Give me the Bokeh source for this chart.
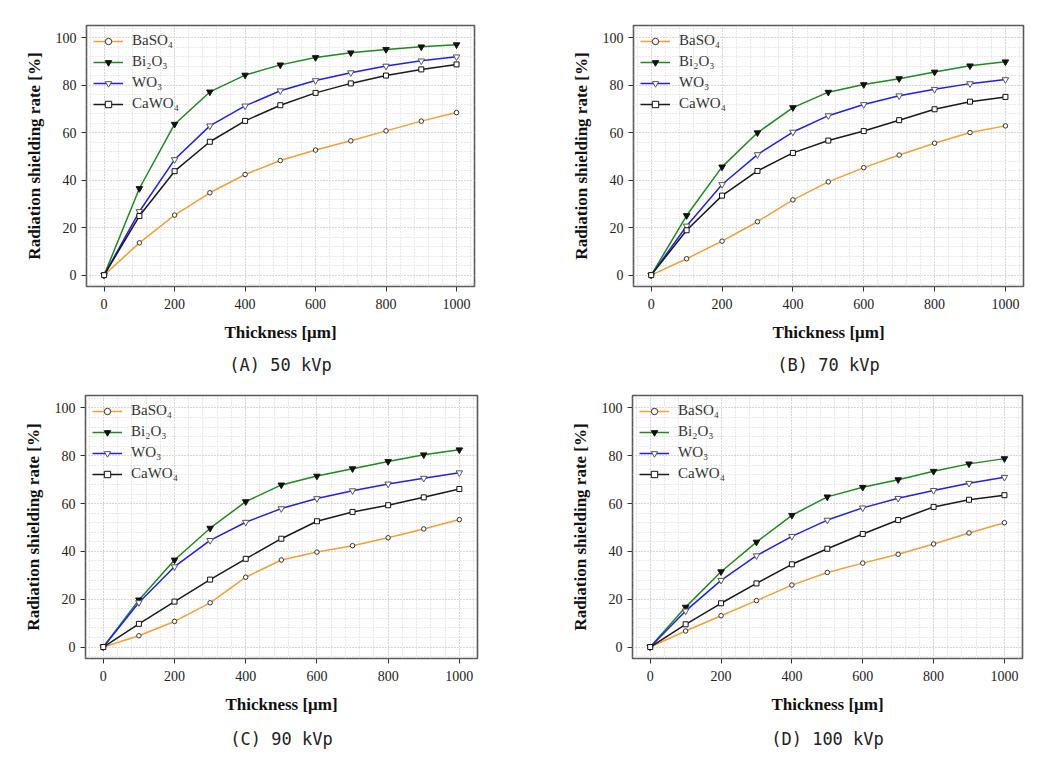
from bokeh.plotting import figure
from bokeh.layouts import column, row
from bokeh.models import Range1d, FixedTicker, Legend
from bokeh.embed import file_html
from bokeh.resources import INLINE

# ---------------- data ----------------
thickness_um = [0, 100, 200, 300, 400, 500, 600, 700, 800, 900, 1000]

materials = ["BaSO\u2084", "Bi\u2082O\u2083", "WO\u2083", "CaWO\u2084"]

# (A) 50 kVp
baso4_50 = [0, 13.6, 25.3, 34.7, 42.4, 48.3, 52.7, 56.6, 60.8, 64.9, 68.5]
bi2o3_50 = [0, 36.5, 63.6, 77.2, 84.3, 88.6, 91.7, 93.7, 95.1, 96.2, 97.1]
wo3_50 = [0, 26.8, 48.7, 62.9, 71.3, 77.7, 82.0, 85.3, 88.1, 90.3, 92.0]
cawo4_50 = [0, 24.9, 43.8, 56.2, 65.0, 71.6, 76.8, 80.8, 84.1, 86.7, 88.8]

# (B) 70 kVp
baso4_70 = [0, 6.9, 14.3, 22.5, 31.7, 39.3, 45.3, 50.6, 55.6, 60.1, 62.9]
bi2o3_70 = [0, 25.1, 45.6, 60.0, 70.6, 77.1, 80.3, 82.8, 85.6, 88.2, 89.9]
wo3_70 = [0, 20.7, 38.2, 50.8, 60.3, 67.2, 71.9, 75.6, 78.3, 80.7, 82.4]
cawo4_70 = [0, 18.9, 33.5, 43.9, 51.5, 56.7, 60.7, 65.3, 69.9, 73.1, 75.1]

# (C) 90 kVp
baso4_90 = [0, 4.7, 10.7, 18.5, 29.2, 36.4, 39.7, 42.4, 45.7, 49.4, 53.3]
bi2o3_90 = [0, 19.7, 36.4, 49.7, 60.8, 67.8, 71.5, 74.6, 77.6, 80.4, 82.5]
wo3_90 = [0, 18.6, 33.6, 44.6, 52.2, 57.9, 62.1, 65.4, 68.2, 70.6, 72.9]
cawo4_90 = [0, 9.7, 19.0, 28.2, 36.9, 45.3, 52.6, 56.5, 59.3, 62.6, 66.1]

# (D) 100 kVp
baso4_100 = [0, 6.7, 13.1, 19.4, 25.9, 31.2, 35.1, 38.8, 43.1, 47.7, 52.0]
bi2o3_100 = [0, 16.7, 31.5, 43.9, 55.1, 62.8, 66.8, 70.0, 73.5, 76.6, 78.8]
wo3_100 = [0, 15.1, 27.9, 38.2, 46.3, 53.1, 58.2, 62.2, 65.5, 68.5, 71.0]
cawo4_100 = [0, 9.5, 18.3, 26.6, 34.6, 41.1, 47.3, 53.1, 58.6, 61.6, 63.5]

captions = ["(A) 50 kVp", "(B) 70 kVp", "(C) 90 kVp", "(D) 100 kVp"]
x_ticks = [0, 200, 400, 600, 800, 1000]
y_ticks = [0, 20, 40, 60, 80, 100]

# ---------------- styles ----------------
colors = ["#F59E32", "#1C8A1C", "#1F1FEE", "#1A1A1A"]
markers = ["circle", "inverted_triangle", "inverted_triangle", "square"]
m_fill = ["white", "#111111", "white", "white"]
m_line = ["#333333", "#111111", "#555555", "#111111"]
m_size = [4.5, 6.5, 6.5, 5]

SERIF = "'Liberation Serif'"


def make_panel(series, caption, w, h, bl, br, bt, bb, tstand):
    p = figure(width=w, height=h, output_backend="svg", toolbar_location=None,
               x_range=Range1d(-50, 1051), y_range=Range1d(-4.8, 105.2),
               min_border_left=bl, min_border_right=br,
               min_border_top=bt, min_border_bottom=bb,
               title=caption, title_location="below")
    p.background_fill_color = "white"
    p.border_fill_color = "white"
    p.outline_line_color = "#5a5a5a"
    p.outline_line_width = 1.6

    p.title.text_font = "DejaVu Sans Mono"
    p.title.text_font_size = "17px"
    p.title.text_font_style = "normal"
    p.title.text_color = "#222222"
    p.title.align = "center"
    p.title.offset = -27
    p.title.standoff = tstand

    for ax in (p.xaxis[0], p.yaxis[0]):
        ax.axis_line_color = None
        ax.major_tick_in = 0
        ax.major_tick_out = 5
        ax.minor_tick_in = 0
        ax.minor_tick_out = 0
        ax.major_tick_line_color = "#333333"
        ax.major_label_text_font = SERIF
        ax.major_label_text_font_size = "14px"
        ax.major_label_text_color = "#222222"
        ax.axis_label_text_font = SERIF
        ax.axis_label_text_font_size = "17px"
        ax.axis_label_text_font_style = "bold"
        ax.axis_label_text_color = "#111111"

    p.xaxis.ticker = FixedTicker(ticks=x_ticks,
                                 minor_ticks=list(range(-40, 1041, 40)))
    p.yaxis.ticker = FixedTicker(ticks=y_ticks,
                                 minor_ticks=list(range(-4, 105, 4)))
    p.xaxis.axis_label = "Thickness [\u03bcm]"
    p.yaxis.axis_label = "Radiation shielding rate [%]"
    p.xaxis.major_label_standoff = 7
    p.xaxis.axis_label_standoff = 11
    p.yaxis.major_label_standoff = 5
    p.yaxis.axis_label_standoff = 9

    for g in (p.xgrid[0], p.ygrid[0]):
        g.grid_line_color = "#c4c4c4"
        g.grid_line_dash = "1 2"
        g.grid_line_width = 1
        g.minor_grid_line_color = "#d4d4d4"
        g.minor_grid_line_dash = "1 2"
        g.minor_grid_line_width = 1

    items = []
    for i, ys in enumerate(series):
        r1 = p.line(thickness_um, ys, line_color=colors[i], line_width=1.5)
        r2 = p.scatter(thickness_um, ys, marker=markers[i], size=m_size[i],
                       fill_color=m_fill[i], line_color=m_line[i],
                       line_width=1)
        items.append((materials[i], [r1, r2]))

    leg = Legend(items=items, location="top_left")
    leg.background_fill_alpha = 0
    leg.border_line_color = None
    leg.margin = 7
    leg.padding = 1
    leg.spacing = 4
    leg.glyph_width = 30
    leg.glyph_height = 16
    leg.label_height = 16
    leg.label_standoff = 9
    leg.label_text_font = SERIF
    leg.label_text_font_size = "15px"
    leg.label_text_color = "#333333"
    p.add_layout(leg)
    return p


pA = make_panel([baso4_50, bi2o3_50, wo3_50, cawo4_50], captions[0],
                520, 384, 86, 46, 25, 98, 17)
pB = make_panel([baso4_70, bi2o3_70, wo3_70, cawo4_70], captions[1],
                527, 384, 113, 24, 24, 96, 17)
pC = make_panel([baso4_90, bi2o3_90, wo3_90, cawo4_90], captions[2],
                520, 377, 85, 43, 10, 103, 20)
pD = make_panel([baso4_100, bi2o3_100, wo3_100, cawo4_100], captions[3],
                527, 377, 112, 25, 11, 103, 20)

layout = column(row(pA, pB), row(pC, pD))

with open("out.html", "w") as f:
    f.write(file_html(layout, INLINE))
